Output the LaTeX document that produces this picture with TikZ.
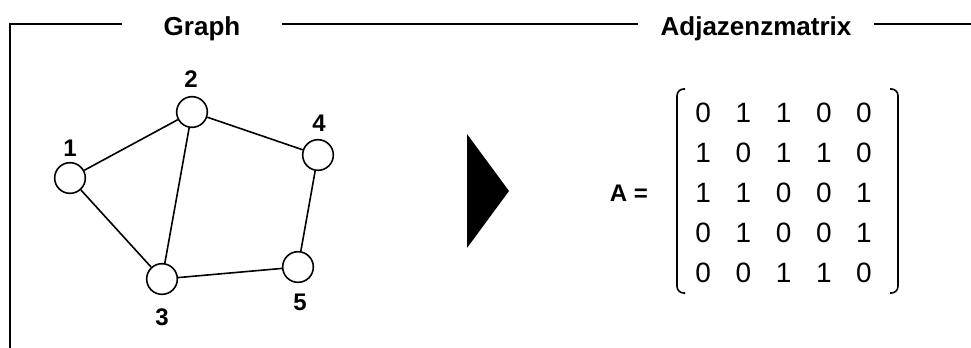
\documentclass[tikz,border=0pt]{standalone}
\usepackage{fontspec}
\setmainfont{Liberation Sans}
\begin{document}
\begin{tikzpicture}[x=0.75pt,y=-0.75pt,
  vtx/.style={circle,draw,line width=1.2pt,minimum size=23pt,inner sep=0pt,fill=white},
  vlabel/.style={font=\fontsize{18}{20}\selectfont\bfseries,inner sep=0pt},
  title/.style={font=\fontsize{19.5}{22}\selectfont\bfseries,inner sep=0pt,anchor=base},
  entry/.style={font=\fontsize{21}{24}\selectfont,inner sep=0pt},
  edge/.style={line width=1.2pt},
  frame/.style={line width=1.4pt}]
\useasboundingbox (0,0) rectangle (971,347);
% frame
\draw[frame] (122,24) -- (10,24) -- (10,348);
\draw[frame] (282,24) -- (638,24);
\draw[frame] (874,24) -- (972,24);
\node[title] (tg) at (202,35) {Graph};
\node[title] (ta) at (756,35) {Adjazenzmatrix};
% graph
\node[vtx] (v1) at (70,178) {};
\node[vtx] (v2) at (192,112) {};
\node[vtx] (v3) at (162,279) {};
\node[vtx] (v4) at (318,155) {};
\node[vtx] (v5) at (298,267) {};
\node[vlabel] (l1) at (70,148) {1};
\node[vlabel] (l2) at (191,79) {2};
\node[vlabel] (l3) at (162,317) {3};
\node[vlabel] (l4) at (319,123) {4};
\node[vlabel] (l5) at (300,302) {5};
\draw[edge] (v1) -- (v2);
\draw[edge] (v1) -- (v3);
\draw[edge] (v2) -- (v3);
\draw[edge] (v2) -- (v4);
\draw[edge] (v4) -- (v5);
\draw[edge] (v3) -- (v5);
% arrow triangle
\fill (467,134) -- (509,191) -- (467,248) -- cycle;
% matrix
\node[font=\fontsize{18}{20}\selectfont\bfseries,inner sep=0pt] (A) at (629,193) {A =};
\draw[line width=1.2pt,rounded corners=5pt] (685,89) -- (677,89) -- (677,293) -- (685,293);
\draw[line width=1.2pt,rounded corners=5pt] (890,89) -- (898,89) -- (898,293) -- (890,293);
\foreach \r/\row in {1/{0,1,1,0,0},2/{1,0,1,1,0},3/{1,1,0,0,1},4/{0,1,0,0,1},5/{0,0,1,1,0}}{
  \foreach \v [count=\c] in \row {
    \node[entry] (m\r\c) at ({663+40.2*\c},{73+40*\r}) {\v};
  }
}
\end{tikzpicture}
\end{document}
